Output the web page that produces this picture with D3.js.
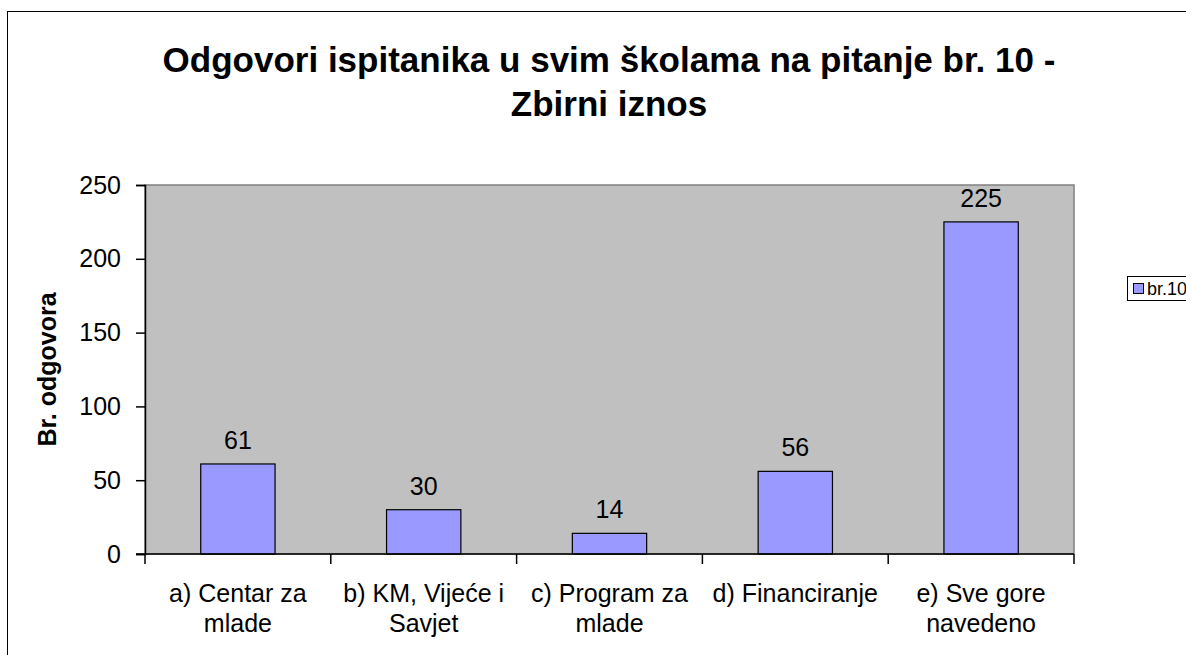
<!DOCTYPE html>
<html>
<head>
<meta charset="utf-8">
<script src="https://cdn.jsdelivr.net/npm/d3@7"></script>
<style>
  body { margin: 0; background: #fff; }
  svg { display: block; font-family: 'Liberation Sans', Arial, sans-serif; }
</style>
</head>
<body>
<svg width="1186" height="655"></svg>
<script>
// data
const categories = ['a', 'b', 'c', 'd', 'e'];
const categoryLines = [
  ['a) Centar za', 'mlade'],
  ['b) KM, Vijeće i', 'Savjet'],
  ['c) Program za', 'mlade'],
  ['d) Financiranje'],
  ['e) Sve gore', 'navedeno'],
];
const values = [61, 30, 14, 56, 225];
const yTicks = [0, 50, 100, 150, 200, 250];
const seriesName = 'br.10';
const titleLines = ['Odgovori ispitanika u svim školama na pitanje br. 10 -', 'Zbirni iznos'];
const yLabel = 'Br. odgovora';

const svg = d3.select('svg');
const plot = { left: 145, top: 185, right: 1074, bottom: 554 };

// outer chart border (runs off the right/bottom edge)
svg.append('rect')
  .attr('x', 7.5).attr('y', 11.5)
  .attr('width', 1300).attr('height', 800)
  .attr('fill', '#fff')
  .attr('stroke', '#000');

const x = d3.scaleBand()
  .domain(categories)
  .range([plot.left, plot.right])
  .paddingInner(0.6)
  .paddingOuter(0.3);

const y = d3.scaleLinear()
  .domain([0, 250])
  .range([plot.bottom, plot.top]);

// plot area
svg.append('rect')
  .attr('x', plot.left).attr('y', plot.top)
  .attr('width', plot.right - plot.left)
  .attr('height', plot.bottom - plot.top)
  .attr('fill', '#c0c0c0')
  .attr('stroke', '#808080')
  .attr('stroke-width', 1.5);

// bars
svg.append('g')
  .selectAll('rect')
  .data(values)
  .enter().append('rect')
  .attr('x', (d, i) => x(categories[i]))
  .attr('y', d => y(d))
  .attr('width', x.bandwidth())
  .attr('height', d => y(0) - y(d))
  .attr('fill', '#9999ff')
  .attr('stroke', '#000')
  .attr('stroke-width', 1.2);

// value labels
svg.append('g')
  .selectAll('text')
  .data(values)
  .enter().append('text')
  .attr('x', (d, i) => x(categories[i]) + x.bandwidth() / 2)
  .attr('y', d => y(d) - 15)
  .attr('text-anchor', 'middle')
  .attr('font-size', 25)
  .attr('fill', '#000')
  .text(d => d);

// y axis
const yAxis = svg.append('g')
  .attr('transform', `translate(${plot.left},0)`)
  .call(d3.axisLeft(y).tickValues(yTicks).tickSize(9).tickPadding(15));
yAxis.select('.domain').attr('stroke', '#000').attr('stroke-width', 1.5);
yAxis.selectAll('.tick line').attr('stroke', '#000').attr('stroke-width', 1.5);
yAxis.selectAll('.tick text')
  .attr('font-size', 25)
  .attr('font-family', "'Liberation Sans', Arial, sans-serif")
  .attr('fill', '#000');

// x axis: ticks between categories
const boundaries = d3.range(categories.length + 1);
const step = x.step();
const xStart = x(categories[0]) - x.paddingOuter() * step;
const xAxisG = svg.append('g');
xAxisG.append('line')
  .attr('x1', plot.left - 9).attr('x2', plot.right)
  .attr('y1', plot.bottom).attr('y2', plot.bottom)
  .attr('stroke', '#000').attr('stroke-width', 1.5);
xAxisG.selectAll('line.tick')
  .data(boundaries)
  .enter().append('line')
  .attr('class', 'tick')
  .attr('x1', i => xStart + i * step).attr('x2', i => xStart + i * step)
  .attr('y1', plot.bottom).attr('y2', plot.bottom + 10)
  .attr('stroke', '#000').attr('stroke-width', 1.5);

const xLabels = xAxisG.selectAll('text')
  .data(categoryLines)
  .enter().append('text')
  .attr('text-anchor', 'middle')
  .attr('font-size', 25)
  .attr('fill', '#000');
xLabels.selectAll('tspan')
  .data((lines, i) => lines.map(l => ({ l, i })))
  .enter().append('tspan')
  .attr('x', d => x(categories[d.i]) + x.bandwidth() / 2)
  .attr('y', (d, j) => 602 + j * 30)
  .text(d => d.l);

// y axis title
svg.append('text')
  .attr('transform', `translate(56,${(plot.top + plot.bottom) / 2}) rotate(-90)`)
  .attr('text-anchor', 'middle')
  .attr('font-size', 25)
  .attr('font-weight', 'bold')
  .attr('fill', '#000')
  .text(yLabel);

// title
svg.append('g')
  .selectAll('text')
  .data(titleLines)
  .enter().append('text')
  .attr('x', 609)
  .attr('y', (d, i) => 72 + i * 44)
  .attr('text-anchor', 'middle')
  .attr('font-size', 35)
  .attr('font-weight', 'bold')
  .attr('fill', '#000')
  .text(d => d);

// legend (box runs off the right edge)
const legend = svg.append('g').attr('transform', 'translate(1127,276)');
legend.append('rect')
  .attr('x', 0.5).attr('y', 0.5)
  .attr('width', 80).attr('height', 24)
  .attr('fill', '#fff')
  .attr('stroke', '#000');
legend.append('rect')
  .attr('x', 6.5).attr('y', 7.5)
  .attr('width', 10).attr('height', 10)
  .attr('fill', '#9999ff')
  .attr('stroke', '#000');
legend.append('text')
  .attr('x', 20).attr('y', 19)
  .attr('font-size', 18)
  .attr('fill', '#000')
  .text(seriesName);
</script>
</body>
</html>
